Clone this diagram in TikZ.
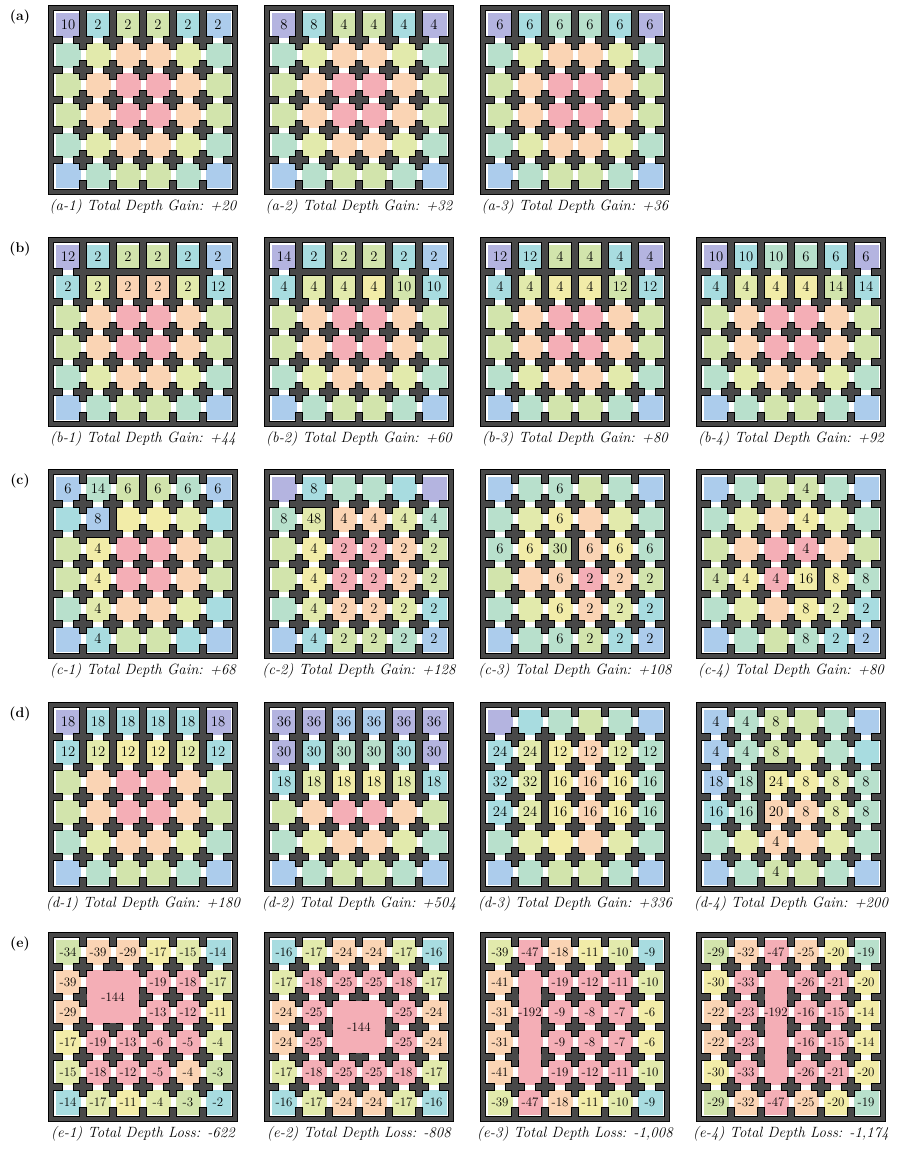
\documentclass[tikz,border=0pt]{standalone}
\usetikzlibrary{calc}
\definecolor{cP}{RGB}{180,180,224}
\definecolor{cB}{RGB}{172,204,236}
\definecolor{cC}{RGB}{168,220,224}
\definecolor{cT}{RGB}{184,224,204}
\definecolor{cG}{RGB}{210,228,172}
\definecolor{cL}{RGB}{226,234,172}
\definecolor{cY}{RGB}{242,236,168}
\definecolor{cO}{RGB}{250,212,180}
\definecolor{cR}{RGB}{244,174,182}
\definecolor{wallgray}{RGB}{72,72,72}
\tikzset{cellbox/.style={minimum size=7.5mm, inner sep=0pt, font=\fontsize{12.5}{13}\selectfont},
  captext/.style={inner sep=0pt, font=\fontsize{12.7}{14}\selectfont\itshape},
  rowlbl/.style={inner sep=0pt, font=\fontsize{12}{14}\selectfont\bfseries}}

\newcommand\wallpass[1]{%
  \ifnum#1=1\relax
    \tikzset{wsh/.style={draw=black, line width=0.35mm}, wln/.style={draw=black, line width=2.4mm, line cap=rect}}%
  \else
    \tikzset{wsh/.style={fill=wallgray}, wln/.style={draw=wallgray, line width=2.05mm, line cap=rect}}%
  \fi
  \path[wsh, even odd rule] (-0.1333,-0.1333) rectangle (6.1333,6.1333) (0,0) rectangle (6,6);
  \foreach \k in {1,...,5}{
    \path[wsh] (\k-0.1,-0.06) rectangle (\k+0.1,0.3);
    \path[wsh] (\k-0.1,5.7) rectangle (\k+0.1,6.06);
    \path[wsh] (-0.06,\k-0.1) rectangle (0.3,\k+0.1);
    \path[wsh] (5.7,\k-0.1) rectangle (6.06,\k+0.1);
    \foreach \j in {1,...,5}{
      \path[wsh] (\k-0.3,\j-0.1) rectangle (\k+0.3,\j+0.1);
      \path[wsh] (\k-0.1,\j-0.3) rectangle (\k+0.1,\j+0.3);
    }
  }
  \foreach \rr in \crows {\ifnum\rr>0
    \foreach \k in {1,...,5} \path[wsh] (\k-0.1,\rr-1.05) rectangle (\k+0.1,\rr+0.05);
  \fi}
  \path[wln] \thk;
}

\newcommand\panel[8]{%
\begin{scope}[shift={(#1+4,#2+4)}, x=9mm, y=-9mm]
  \foreach \rowdata [count=\ri] in {#7}{
    \foreach \cellcol/\celltxt [count=\ci] in \rowdata
      \node[cellbox, fill=c\cellcol] (#3-\ri-\ci) at (\ci-0.5,\ri-0.5) {\celltxt};
  }
  \def\crows{#5}\def\thk{#6}
  \wallpass1
  \wallpass2
  #8
  \node[captext] (#3-cap) at (3,6.57) {#4};
\end{scope}}

\begin{document}
\begin{tikzpicture}[x=0.3mm, y=-0.3mm]
\useasboundingbox (0,0) rectangle (898,1149);

\node[rowlbl] (lbl-a) at (20,17) {(a)};
\node[rowlbl] (lbl-b) at (20,249) {(b)};
\node[rowlbl] (lbl-c) at (20,481) {(c)};
\node[rowlbl] (lbl-d) at (20,714) {(d)};
\node[rowlbl] (lbl-e) at (20,944) {(e)};

\panel{49}{6}{a1}{(a-1) Total Depth Gain: +20}{1}{(1,0) -- (1,1)}{
  {P/10,C/2,G/2,G/2,C/2,B/2},
  {T/,L/,O/,O/,L/,T/},
  {G/,O/,R/,R/,O/,G/},
  {G/,O/,R/,R/,O/,G/},
  {T/,L/,O/,O/,L/,T/},
  {B/,T/,G/,G/,T/,B/}}{}
\panel{265}{6}{a2}{(a-2) Total Depth Gain: +32}{1}{(2,0) -- (2,1)}{
  {P/8,C/8,G/4,G/4,C/4,P/4},
  {T/,L/,O/,O/,L/,T/},
  {G/,O/,R/,R/,O/,G/},
  {G/,O/,R/,R/,O/,G/},
  {T/,L/,O/,O/,L/,T/},
  {B/,T/,G/,G/,T/,B/}}{}
\panel{481}{6}{a3}{(a-3) Total Depth Gain: +36}{1}{(3,0) -- (3,1)}{
  {P/6,C/6,T/6,T/6,C/6,P/6},
  {T/,L/,O/,O/,L/,T/},
  {G/,O/,R/,R/,O/,G/},
  {G/,O/,R/,R/,O/,G/},
  {T/,L/,O/,O/,L/,T/},
  {B/,T/,G/,G/,T/,B/}}{}

\panel{49}{238}{b1}{(b-1) Total Depth Gain: +44}{1,2}{(1,0) -- (1,1) -- (5,1) -- (5,2)}{
  {P/12,C/2,G/2,G/2,C/2,B/2},
  {C/2,L/2,O/2,O/2,L/2,C/12},
  {G/,O/,R/,R/,O/,G/},
  {G/,O/,R/,R/,O/,G/},
  {T/,L/,O/,O/,L/,T/},
  {B/,T/,G/,G/,T/,B/}}{}
\panel{265}{238}{b2}{(b-2) Total Depth Gain: +60}{1,2}{(1,0) -- (1,1) -- (4,1) -- (4,2)}{
  {P/14,C/2,G/2,G/2,C/2,B/2},
  {C/4,L/4,L/4,Y/4,G/10,C/10},
  {G/,O/,R/,R/,O/,G/},
  {G/,O/,R/,R/,O/,G/},
  {T/,L/,O/,O/,L/,T/},
  {B/,T/,G/,G/,T/,B/}}{}
\panel{481}{238}{b3}{(b-3) Total Depth Gain: +80}{1,2}{(2,0) -- (2,1) -- (4,1) -- (4,2)}{
  {P/12,C/12,G/4,G/4,C/4,P/4},
  {C/4,L/4,Y/4,Y/4,G/12,C/12},
  {G/,O/,R/,R/,O/,G/},
  {G/,O/,R/,R/,O/,G/},
  {T/,L/,O/,O/,L/,T/},
  {B/,T/,G/,G/,T/,B/}}{}
\panel{697}{238}{b4}{(b-4) Total Depth Gain: +92}{1,2}{(3,0) -- (3,1) -- (4,1) -- (4,2)}{
  {P/10,C/10,T/10,T/6,C/6,P/6},
  {C/4,L/4,Y/4,Y/4,G/14,C/14},
  {G/,O/,R/,R/,O/,G/},
  {G/,O/,R/,R/,O/,G/},
  {T/,L/,O/,O/,L/,T/},
  {B/,T/,G/,G/,T/,B/}}{}

\panel{49}{470}{c1}{(c-1) Total Depth Gain: +68}{0}{(3,0) -- (3,1) (1,2) -- (2,2) -- (2,1)}{
  {B/6,T/14,G/6,G/6,T/6,B/6},
  {C/,B/8,Y/,Y/,L/,C/},
  {G/,Y/4,R/,R/,O/,G/},
  {G/,Y/4,R/,R/,O/,G/},
  {T/,L/4,O/,O/,L/,C/},
  {B/,C/4,G/,G/,C/,B/}}{}
\panel{265}{470}{c2}{(c-2) Total Depth Gain: +128}{0}{(1,1) -- (2,1) -- (2,2)}{
  {P/,C/8,T/,T/,C/,P/},
  {T/8,L/48,O/4,O/4,L/4,T/4},
  {G/,Y/4,R/2,R/2,O/2,G/2},
  {G/,Y/4,R/2,R/2,O/2,G/2},
  {T/,L/4,O/2,O/2,L/2,C/2},
  {B/,C/4,G/2,G/2,T/2,B/2}}{}
\panel{481}{470}{c3}{(c-3) Total Depth Gain: +108}{0}{(3,2) -- (3,3)}{
  {B/,T/,T/6,G/,T/,B/},
  {T/,L/,Y/6,O/,L/,T/},
  {T/6,Y/6,G/30,O/6,Y/6,T/6},
  {G/,O/,O/6,R/2,O/2,G/2},
  {T/,L/,Y/6,O/2,L/2,C/2},
  {B/,T/,T/6,G/2,C/2,B/2}}{}
\panel{697}{470}{c4}{(c-4) Total Depth Gain: +80}{0}{(3,4) -- (4,4) -- (4,3)}{
  {B/,T/,G/,G/4,T/,B/},
  {T/,L/,O/,Y/4,L/,T/},
  {G/,O/,R/,R/4,O/,G/},
  {G/4,Y/4,R/4,Y/16,Y/8,T/8},
  {T/,L/,O/,Y/8,L/2,C/2},
  {B/,T/,G/,T/8,C/2,B/2}}{}

\panel{49}{703}{d1}{(d-1) Total Depth Gain: +180}{1,2}{(3,0) -- (3,2)}{
  {P/18,C/18,C/18,C/18,C/18,P/18},
  {C/12,L/12,Y/12,Y/12,L/12,C/12},
  {G/,O/,R/,R/,O/,G/},
  {G/,O/,R/,R/,O/,G/},
  {T/,L/,O/,O/,L/,T/},
  {B/,T/,G/,G/,T/,B/}}{}
\panel{265}{703}{d2}{(d-2) Total Depth Gain: +504}{1,2,3}{(3,0) -- (3,3)}{
  {P/36,P/36,B/36,B/36,P/36,P/36},
  {P/30,C/30,T/30,T/30,C/30,P/30},
  {C/18,L/18,Y/18,Y/18,L/18,C/18},
  {G/,O/,R/,R/,O/,G/},
  {T/,L/,O/,O/,L/,T/},
  {B/,T/,G/,G/,T/,B/}}{}
\panel{481}{703}{d3}{(d-3) Total Depth Gain: +336}{0}{(2,1) -- (2,4)}{
  {P/,C/,T/,G/,T/,B/},
  {C/24,L/24,Y/12,O/12,L/12,T/12},
  {C/32,L/32,Y/16,O/16,Y/16,T/16},
  {C/24,L/24,Y/16,O/16,Y/16,T/16},
  {T/,L/,Y/,O/,L/,T/},
  {B/,T/,G/,G/,T/,B/}}{}
\panel{697}{703}{d4}{(d-4) Total Depth Gain: +200}{0}{(3,2) -- (2,2) -- (2,4)}{
  {B/4,T/4,G/8,G/,T/,B/},
  {B/4,T/4,G/8,L/,T/,C/},
  {B/18,T/18,Y/24,Y/8,L/8,T/8},
  {C/16,T/16,O/20,O/8,L/8,T/8},
  {T/,L/,O/4,O/,L/,T/},
  {B/,T/,G/4,G/,T/,B/}}{}

\tikzset{cellbox/.append style={font=\fontsize{11}{12}\selectfont}}
\panel{49}{933}{e1}{(e-1) Total Depth Loss: -622}{0}{}{
  {G/-34,O/-39,O/-29,Y/-17,L/-15,C/-14},
  {O/-39,R/,R/,R/-19,R/-18,L/-17},
  {O/-29,R/,R/,R/-13,R/-12,Y/-11},
  {Y/-17,R/-19,R/-13,R/-6,R/-5,L/-4},
  {L/-15,R/-18,R/-12,R/-5,O/-4,G/-3},
  {C/-14,L/-17,Y/-11,L/-4,G/-3,C/-2}}{%
  \node[cellbox, fill=cR, minimum size=15.48mm] (e1-m) at (2,2) {-144};}
\panel{265}{933}{e2}{(e-2) Total Depth Loss: -808}{0}{}{
  {C/-16,L/-17,O/-24,O/-24,L/-17,C/-16},
  {L/-17,R/-18,R/-25,R/-25,R/-18,L/-17},
  {O/-24,R/-25,R/,R/,R/-25,O/-24},
  {O/-24,R/-25,R/,R/,R/-25,O/-24},
  {L/-17,R/-18,R/-25,R/-25,R/-18,L/-17},
  {C/-16,L/-17,O/-24,O/-24,L/-17,C/-16}}{%
  \node[cellbox, fill=cR, minimum size=15.48mm] (e2-m) at (3,3) {-144};}
\panel{481}{933}{e3}{(e-3) Total Depth Loss: -1,008}{0}{}{
  {L/-39,R/-47,O/-18,Y/-11,L/-10,C/-9},
  {O/-41,R/,R/-19,R/-12,R/-11,L/-10},
  {O/-31,R/,R/-9,R/-8,R/-7,Y/-6},
  {O/-31,R/,R/-9,R/-8,R/-7,Y/-6},
  {O/-41,R/,R/-19,R/-12,R/-11,L/-10},
  {L/-39,R/-47,O/-18,Y/-11,L/-10,C/-9}}{%
  \node[cellbox, fill=cR, minimum width=6.48mm, minimum height=33.48mm] (e3-m) at (1.5,3) {};
  \node[cellbox] (e3-ml) at (1.5,2.5) {-192};}
\panel{697}{933}{e4}{(e-4) Total Depth Loss: -1,174}{0}{}{
  {G/-29,O/-32,R/-47,O/-25,Y/-20,T/-19},
  {Y/-30,R/-33,R/,R/-26,R/-21,Y/-20},
  {O/-22,R/-23,R/,R/-16,R/-15,Y/-14},
  {O/-22,R/-23,R/,R/-16,R/-15,Y/-14},
  {Y/-30,R/-33,R/,R/-26,R/-21,Y/-20},
  {G/-29,O/-32,R/-47,O/-25,Y/-20,T/-19}}{%
  \node[cellbox, fill=cR, minimum width=6.48mm, minimum height=33.48mm] (e4-m) at (2.5,3) {};
  \node[cellbox] (e4-ml) at (2.5,2.5) {-192};}
\end{tikzpicture}
\end{document}
